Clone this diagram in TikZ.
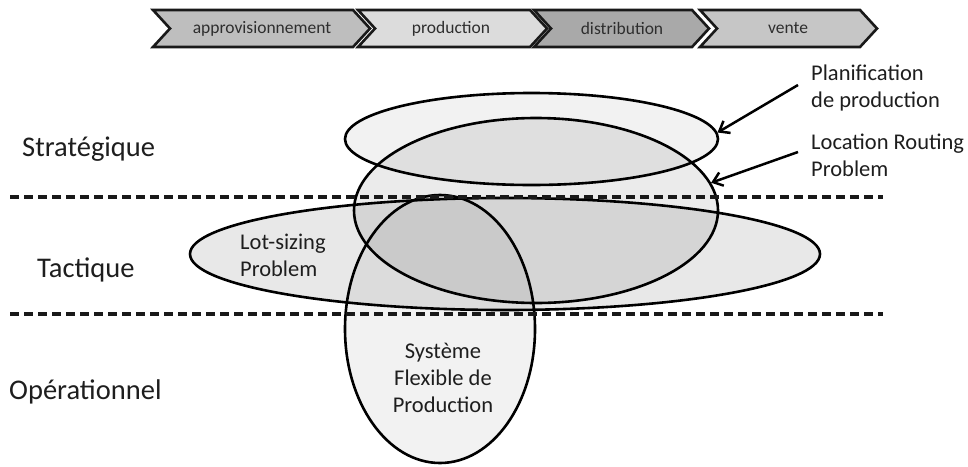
\documentclass[tikz,border=0pt]{standalone}
\usepackage{fontspec}
\setmainfont{Carlito}
\usetikzlibrary{shapes.geometric,arrows.meta}
\definecolor{cApp}{HTML}{BEBEBE}
\definecolor{cProd}{HTML}{DCDCDC}
\definecolor{cDist}{HTML}{A9A9A9}
\definecolor{cVente}{HTML}{C6C6C6}
\definecolor{txtdark}{HTML}{1E1E1E}
\definecolor{txtchev}{HTML}{2E2E2E}
\tikzset{
  chev/.style={draw=black!90, line width=2.6pt, line join=miter},
  chevtxt/.style={font=\fontsize{17.5}{20}\selectfont, text=txtchev, inner sep=0pt},
  levellbl/.style={font=\fontsize{28.5}{34}\selectfont, text=txtdark, inner sep=0pt, anchor=base west},
  calllbl/.style={font=\fontsize{22.5}{27}\selectfont, text=txtdark, inner sep=0pt, align=left, anchor=west},
  inlbl/.style={font=\fontsize{22.5}{27}\selectfont, text=txtdark, inner sep=0pt},
  zone/.style={ellipse, draw=black, draw opacity=1, line width=2.6pt, inner sep=0pt, fill=black},
  sep/.style={line width=3.2pt, dash pattern=on 9pt off 5pt, black!90},
  callarrow/.style={line width=2.5pt, -{Straight Barb[length=9pt,width=14pt,line width=2.5pt]}}
}
\begin{document}
\begin{tikzpicture}[x=1pt,y=-1pt]
\useasboundingbox (0,0) rectangle (968,466);
\fill[white] (0,0) rectangle (968,466);

% chevrons
\draw[chev, fill=cApp]   (153,10) -- (353,10) -- (370,28.5) -- (353,47) -- (153,47) -- (170,28.5) -- cycle;
\draw[chev, fill=cProd]  (358,10) -- (530,10) -- (547,28.5) -- (530,47) -- (358,47) -- (375,28.5) -- cycle;
\draw[chev, fill=cDist]  (534,10) -- (692,10) -- (709,28.5) -- (692,47) -- (534,47) -- (551,28.5) -- cycle;
\draw[chev, fill=cVente] (700,10) -- (860,10) -- (877,28.5) -- (860,47) -- (700,47) -- (717,28.5) -- cycle;
\node[chevtxt] (tapp) at (262,28.5) {approvisionnement};
\node[chevtxt] (tprod) at (451,28.5) {production};
\node[chevtxt] (tdist) at (622,28.5) {distribution};
\node[chevtxt] (tvente) at (788,28.5) {vente};

% level separators
\coordinate (s1a) at (10,197);
\coordinate (s1b) at (883,197);
\coordinate (s2a) at (10,314);
\coordinate (s2b) at (883,314);

% ellipses
\node[zone, fill opacity=0.05, minimum width=373pt, minimum height=92pt] (plan) at (531.5,139) {};
\node[zone, fill opacity=0.08, minimum width=364pt, minimum height=185pt] (lrp) at (536,210.5) {};
\node[zone, fill opacity=0.09, minimum width=630pt, minimum height=112pt] (lot) at (505,254) {};
\node[zone, fill opacity=0.05, minimum width=190pt, minimum height=268pt] (sfp) at (440,329) {};

\draw[sep] (s1a) -- (s1b);
\draw[sep] (s2a) -- (s2b);

% level labels
\node[levellbl] (strat) at (22,156) {Stratégique};
\node[levellbl] (tact) at (37,277) {Tactique};
\node[levellbl] (oper) at (9,399) {Opérationnel};

% labels inside ellipses
\node[inlbl, align=left, anchor=west] (lotlbl) at (240,255) {Lot-sizing\\Problem};
\node[inlbl, align=center] (sfplbl) at (443,378) {Système\\Flexible de\\Production};

% callouts
\node[calllbl] (planlbl) at (811,87.5) {Planification\\de production};
\node[calllbl] (lrplbl) at (811,155) {Location Routing\\Problem};
\coordinate (a1) at (798,85);
\coordinate (a2) at (798,152);
\draw[callarrow] (a1) -- (plan.2);
\draw[callarrow] (a2) -- (lrp.9);
\end{tikzpicture}
\end{document}
